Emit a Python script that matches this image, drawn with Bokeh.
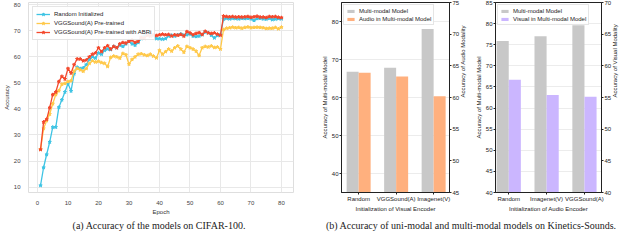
import math
from bokeh.plotting import figure
from bokeh.models import (Range1d, LinearAxis, FixedTicker, Legend, LegendItem, Div,
                          ColumnDataSource)
from bokeh.layouts import row, column
from bokeh.transform import dodge
from bokeh.embed import file_html
from bokeh.resources import INLINE

# ---------------- data ----------------
epochs = list(range(1, 81))
random_init = [10.6, 17.5, 22.5, 27.3, 33.0, 33.0, 40.6, 43.5, 46.5, 49.8,
               46.9, 53.5, 56.0, 55.5, 55.8, 57.0, 59.0, 60.0, 59.5, 61.5,
               61.0, 62.5, 63.0, 62.8, 64.0, 63.5, 64.5, 64.0, 65.0, 66.0,
               65.0, 64.5, 65.5, 67.0, 68.0, 68.5, 68.8, 68.2, 67.0, 67.0,
               66.8, 67.0, 68.0, 68.3, 68.0, 68.5, 68.8, 68.3, 68.5, 68.8,
               68.0, 67.8, 68.0, 68.5, 69.5, 69.3, 68.3, 67.3, 68.2, 68.6,
               74.5, 74.8, 74.6, 74.8, 74.7, 74.6, 74.8, 74.7, 74.8, 74.6,
               74.0, 74.7, 74.8, 74.6, 74.5, 74.8, 74.3, 74.5, 74.7, 74.6]
vgg_pre = [24.5, 32.5, 35.5, 38.0, 42.0, 45.5, 47.0, 49.5, 49.8, 50.5,
           50.8, 54.5, 55.5, 55.0, 54.5, 55.5, 57.5, 58.5, 58.0, 58.3,
           57.8, 57.5, 56.3, 59.8, 60.3, 60.0, 59.5, 61.3, 60.8, 57.2,
           59.0, 60.0, 61.0, 61.2, 60.8, 60.5, 61.0, 60.3, 59.6, 62.5,
           61.0, 62.0, 63.0, 62.2, 63.5, 64.2, 63.0, 61.8, 64.0, 63.5,
           63.0, 62.2, 60.5, 63.5, 64.0, 63.8, 64.2, 63.6, 63.8, 63.0,
           70.5, 71.0, 71.2, 71.4, 71.2, 71.3, 71.0, 71.3, 71.5, 71.2,
           71.3, 71.4, 71.3, 71.2, 70.9, 71.0, 71.0, 71.3, 70.8, 71.4]
vgg_abri = [24.4, 35.0, 36.0, 40.5, 45.5, 46.5, 50.5, 52.5, 51.5, 55.5,
            53.8, 57.0, 59.2, 59.2, 58.5, 58.8, 60.0, 61.0, 61.5, 63.5,
            62.0, 63.5, 64.3, 63.0, 64.0, 63.5, 65.0, 65.5, 65.3, 66.0,
            66.5, 65.5, 66.0, 67.5, 67.2, 68.3, 68.0, 68.5, 68.2, 68.5,
            68.7, 68.5, 68.6, 68.0, 68.5, 68.3, 68.6, 68.0, 69.7, 69.2,
            68.5, 69.0, 69.3, 68.6, 69.8, 69.2, 69.0, 69.2, 68.7, 68.3,
            75.7, 75.5, 75.4, 75.5, 75.3, 75.4, 75.3, 75.4, 75.5, 75.2,
            75.4, 75.6, 75.3, 75.3, 75.1, 75.5, 75.4, 75.5, 75.2, 75.1]
series_names = ["Random Initialized", "VGGSound(A) Pre-trained",
                "VGGSound(A) Pre-trained with ABRi"]
epoch_ticks = [0, 10, 20, 30, 40, 50, 60, 70, 80]
acc_ticks = [10, 20, 30, 40, 50, 60, 70, 80]

visual_init = ["Random", "VGGSound(A)", "Imagenet(V)"]
mm_model_b1 = [66.8, 67.8, 78.0]
audio_in_mm = [63.9, 63.3, 60.2]

audio_init = ["Random", "Imagenet(V)", "VGGSound(A)"]
mm_model_b2 = [75.9, 77.0, 79.6]
visual_in_mm = [57.8, 55.4, 55.1]

FONT = "Liberation Sans"
SMALL = "6px"

# ---------------- (a) line chart ----------------
fa = figure(width=318, height=217, x_range=Range1d(-2.95, 83.95),
            y_range=Range1d(7.9, 80.9), output_backend="svg",
            toolbar_location=None, min_border_left=18, min_border_right=25,
            min_border_top=1, min_border_bottom=18)
fa.outline_line_color = "#dedede"
fa.xaxis.ticker = FixedTicker(ticks=epoch_ticks)
fa.yaxis.ticker = FixedTicker(ticks=acc_ticks)
fa.xaxis.axis_label = "Epoch"
fa.yaxis.axis_label = "Accuracy"
for ax in (fa.xaxis, fa.yaxis):
    ax.axis_line_color = None
    ax.major_tick_line_color = None
    ax.minor_tick_line_color = None
    ax.major_label_text_font = FONT
    ax.major_label_text_font_size = SMALL
    ax.major_label_text_color = "#444444"
    ax.axis_label_text_font = FONT
    ax.axis_label_text_font_size = SMALL
    ax.axis_label_text_font_style = "normal"
    ax.axis_label_text_color = "#333333"
    ax.major_label_standoff = 2
    ax.axis_label_standoff = 1
fa.xgrid.grid_line_color = "#e8e8e8"
fa.ygrid.grid_line_color = "#e8e8e8"

colors = ["#3EC4E4", "#FFC94A", "#F4482C"]
items = []
for name, vals, c in zip(series_names, [random_init, vgg_pre, vgg_abri], colors):
    src = ColumnDataSource(dict(x=epochs, y=vals))
    rl = fa.line("x", "y", source=src, line_color=c, line_width=1.3)
    rs = fa.scatter("x", "y", source=src, marker="star", size=3.5,
                    fill_color=c, line_color=c)
    items.append(LegendItem(label=name, renderers=[rl, rs]))
leg_a = Legend(items=items, location="top_left", margin=4, padding=3,
               spacing=1, label_height=8, glyph_height=8, glyph_width=14,
               label_standoff=4, label_text_font=FONT,
               label_text_font_size=SMALL, label_text_color="#222222",
               border_line_color="#cccccc", background_fill_alpha=0.9)
fa.add_layout(leg_a)


# ---------------- (b) bar charts ----------------
def bar_chart(width, cats, mm_vals, uni_vals, uni_color, uni_label,
              left_rng, left_ticks, right_rng, right_ticks, x_rng,
              xlabel, rlabel, mbl, mbr, mbt):
    p = figure(width=width, height=217, x_range=Range1d(*x_rng),
               y_range=Range1d(*left_rng), output_backend="svg",
               toolbar_location=None, min_border_left=mbl,
               min_border_right=mbr, min_border_top=mbt, min_border_bottom=16)
    p.extra_y_ranges = {"right": Range1d(*right_rng)}
    p.add_layout(LinearAxis(y_range_name="right"), "right")
    src = ColumnDataSource(dict(x=list(range(len(cats))), mm=mm_vals, uni=uni_vals))
    r1 = p.vbar(x=dodge("x", -0.16), top="mm", bottom=0, width=0.32,
                source=src, fill_color="#C8C8C8", line_color=None)
    r2 = p.vbar(x=dodge("x", 0.16), top="uni", bottom=0, width=0.32,
                source=src, fill_color=uni_color, line_color=None,
                y_range_name="right")
    p.outline_line_color = "#222222"
    p.xgrid.grid_line_color = None
    p.ygrid.grid_line_color = "#ececec"
    p.xaxis.ticker = FixedTicker(ticks=list(range(len(cats))))
    p.xaxis.major_label_overrides = {i: c for i, c in enumerate(cats)}
    p.xaxis.axis_label = xlabel
    p.yaxis[0].ticker = FixedTicker(ticks=left_ticks)
    p.yaxis[0].axis_label = "Accuracy of Multi-modal Model"
    p.yaxis[1].ticker = FixedTicker(ticks=right_ticks)
    p.yaxis[1].axis_label = rlabel
    p.yaxis[1].axis_label_orientation = math.pi / 2
    for ax in list(p.xaxis) + list(p.yaxis):
        ax.axis_line_color = "#222222"
        ax.major_tick_line_color = "#222222"
        ax.major_tick_out = 2
        ax.major_tick_in = 0
        ax.minor_tick_line_color = None
        ax.major_label_text_font = FONT
        ax.major_label_text_font_size = SMALL
        ax.major_label_text_color = "#222222"
        ax.axis_label_text_font = FONT
        ax.axis_label_text_font_size = SMALL
        ax.axis_label_text_font_style = "normal"
        ax.axis_label_text_color = "#222222"
        ax.major_label_standoff = 1
        ax.axis_label_standoff = 1
    leg = Legend(items=[LegendItem(label="Multi-modal Model", renderers=[r1]),
                        LegendItem(label=uni_label, renderers=[r2])],
                 location="top_left", margin=2, padding=2, spacing=1,
                 label_height=7, glyph_height=4, glyph_width=9,
                 label_standoff=4, label_text_font=FONT,
                 label_text_font_size=SMALL, label_text_color="#222222",
                 border_line_color="#cccccc", background_fill_alpha=0.9)
    p.add_layout(leg)
    return p


fb1 = bar_chart(154, visual_init, mm_model_b1, audio_in_mm, "#FFB07E",
                "Audio in Multi-modal Model", (35, 85), [40, 50, 60, 70, 80],
                (45, 75), [45, 50, 55, 60, 65, 70, 75], (-0.457, 2.423),
                "Initialization of Visual Encoder", "Accuracy of Audio Modality",
                17, 20, 2)
fb2 = bar_chart(152, audio_init, mm_model_b2, visual_in_mm, "#CBB6FF",
                "Visual in Multi-modal Model", (40, 85),
                [40, 45, 50, 55, 60, 65, 70, 75, 80, 85],
                (40, 70), [40, 45, 50, 55, 60, 65, 70], (-0.35, 2.45),
                "Initialization of Audio Encoder", "Accuracy of Visual Modality",
                23, 16, 1)

CAP = ("font-family:'Liberation Serif',serif;font-size:10px;color:#222;"
       "text-align:center;line-height:14px;white-space:nowrap;")
cap_a = Div(text=f'<div style="{CAP}width:318px">(a) Accuracy of the models on CIFAR-100.</div>',
            width=318, height=14, margin=(0, 0, 0, 0))
cap_b = Div(text=f'<div style="{CAP}width:306px">(b) Accuracy of uni-modal and multi-modal models on Kinetics-Sounds.</div>',
            width=306, height=14, margin=(0, 0, 0, 0))

layout = column(row(fa, fb1, fb2, spacing=0), row(cap_a, cap_b, spacing=0), spacing=0)

open("out.html", "w").write(file_html(layout, INLINE))
